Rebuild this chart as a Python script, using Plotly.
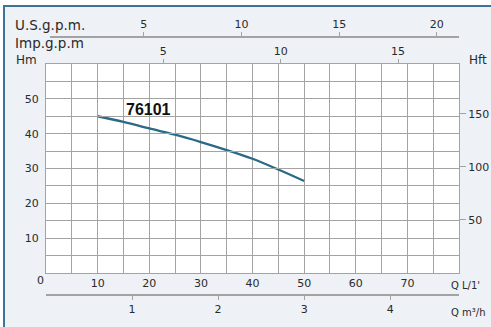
import plotly.graph_objects as go

# Pump performance curve: flow Q (L/min) vs head H (m)
flow_lpm = [10, 15, 20, 25, 30, 35, 40, 45, 50]
head_m = [45.0, 43.4, 41.5, 39.7, 37.6, 35.3, 32.8, 29.7, 26.4]
model_name = "76101"

x_ticks_lpm = [10, 20, 30, 40, 50, 60, 70]
y_ticks_m = [10, 20, 30, 40, 50]
y_ticks_ft = [50, 100, 150]
x_ticks_m3h = [1, 2, 3, 4]
x_ticks_usgpm = [5, 10, 15, 20]
x_ticks_impgpm = [5, 10, 15]

# unit conversions
LPM_PER_M3H = 1000 / 60
LPM_PER_USGAL = 3.78541
LPM_PER_IMPGAL = 4.54609
FT_PER_M = 3.28084

X_MAX = 80
Y_MAX = 60

W, H = 491, 327
ML, MR, MT, MB = 46, 32, 10, 10
PW, PH = W - ML - MR, H - MT - MB


def px(x):
    return (x - ML) / PW


def py(y):
    return (H - MB - y) / PH


GRID = "#a3a3a3"
TXT = "#2a2a2a"
FONT = dict(family="DejaVu Sans", size=11, color=TXT)

fig = go.Figure()
fig.add_trace(go.Scatter(
    x=flow_lpm, y=head_m, mode="lines",
    line=dict(color="#2b6a87", width=2.3, shape="spline"),
    showlegend=False, hoverinfo="skip",
))

y_dom = [py(273), py(64)]
us_start_lpm = (50 - ML) / PW * X_MAX

fig.update_layout(
    width=W, height=H, autosize=False,
    margin=dict(l=ML, r=MR, t=MT, b=MB, autoexpand=False),
    paper_bgcolor="white",
    plot_bgcolor="rgba(0,0,0,0)",
    font=FONT,
    xaxis=dict(
        range=[0, X_MAX], tickvals=x_ticks_lpm, showgrid=True, gridcolor=GRID, gridwidth=1,
        minor=dict(dtick=5, tick0=0, showgrid=True, gridcolor=GRID, gridwidth=1),
        showline=True, linecolor=GRID, linewidth=1, mirror=True, automargin=False,
        ticks="", zeroline=False, tickfont=FONT, anchor="y",
    ),
    yaxis=dict(
        range=[0, Y_MAX], tickvals=y_ticks_m, domain=y_dom, showgrid=True, gridcolor=GRID, gridwidth=1,
        minor=dict(dtick=5, tick0=0, showgrid=True, gridcolor=GRID, gridwidth=1),
        showline=True, linecolor=GRID, linewidth=1, mirror=True, automargin=False,
        ticks="", zeroline=False, tickfont=FONT, ticklabelstandoff=4,
    ),
    yaxis2=dict(
        range=[0, Y_MAX * FT_PER_M], tickvals=y_ticks_ft, overlaying="y", side="right",
        anchor="x", showgrid=False, zeroline=False, ticks="outside", ticklen=6,
        tickcolor=GRID, tickfont=FONT, showline=False, automargin=False,
    ),
    xaxis2=dict(
        range=[0, X_MAX / LPM_PER_M3H], tickvals=x_ticks_m3h, overlaying="x",
        anchor="free", position=py(295), side="bottom", showgrid=False, zeroline=False,
        showline=True, linecolor=GRID, linewidth=1.5, ticks="outside", ticklen=4,
        tickcolor=GRID, tickfont=FONT, automargin=False,
    ),
    xaxis3=dict(
        range=[us_start_lpm / LPM_PER_USGAL, X_MAX / LPM_PER_USGAL], tickvals=x_ticks_usgpm,
        domain=[px(50), 1], anchor="free", position=py(37), side="top",
        showgrid=False, zeroline=False, showline=True, linecolor=GRID, linewidth=1.5,
        ticks="outside", ticklen=4, tickcolor=GRID, tickfont=FONT, automargin=False,
    ),
    xaxis4=dict(
        range=[0, X_MAX / LPM_PER_IMPGAL], tickvals=x_ticks_impgpm, overlaying="x",
        anchor="y", side="top", showgrid=False, zeroline=False, showline=False,
        ticks="outside", ticklen=4, tickcolor=GRID, tickfont=FONT, automargin=False,
    ),
)

# invisible traces to bind the secondary axes
for xa, ya in [("x2", "y"), ("x3", "y"), ("x4", "y"), ("x", "y2")]:
    fig.add_trace(go.Scatter(x=[None], y=[None], xaxis=xa, yaxis=ya, showlegend=False,
                             hoverinfo="skip"))

# framed panel background
fig.add_shape(type="rect", xref="paper", yref="paper", layer="below",
              x0=px(4), x1=px(W + 10), y0=py(H + 10), y1=py(6),
              fillcolor="#eef1f6", line=dict(color="#3d7495", width=2))
# white plotting area
fig.add_shape(type="rect", xref="x domain", yref="y domain", layer="below",
              x0=0, x1=1, y0=0, y1=1, fillcolor="white", line=dict(width=0))

labels = [
    ("U.S.g.p.m.", 13, 25, "left", 13.5),
    ("Imp.g.p.m", 13, 43, "left", 13.5),
    ("Hm", 14, 60, "left", 12),
    ("Hft", 467, 60, "left", 12),
    ("Q L/1'", 449, 285, "left", 10),
    ("Q m³/h", 449, 312, "left", 10),
    ("0", 40, 280, "center", 11),
]
for text, x, y, anchor, size in labels:
    fig.add_annotation(text=text, xref="paper", yref="paper", x=px(x), y=py(y),
                       xanchor=anchor, yanchor="middle", showarrow=False,
                       font=dict(family="DejaVu Sans", size=size, color=TXT))

fig.add_annotation(text=f"<b>{model_name}</b>", x=flow_lpm[2] - 0.2, y=head_m[0] + 1.9,
                   xref="x", yref="y", xanchor="center", yanchor="middle", showarrow=False,
                   font=dict(family="Liberation Sans", size=16, color="#111111"))

fig.write_html("out.html")
